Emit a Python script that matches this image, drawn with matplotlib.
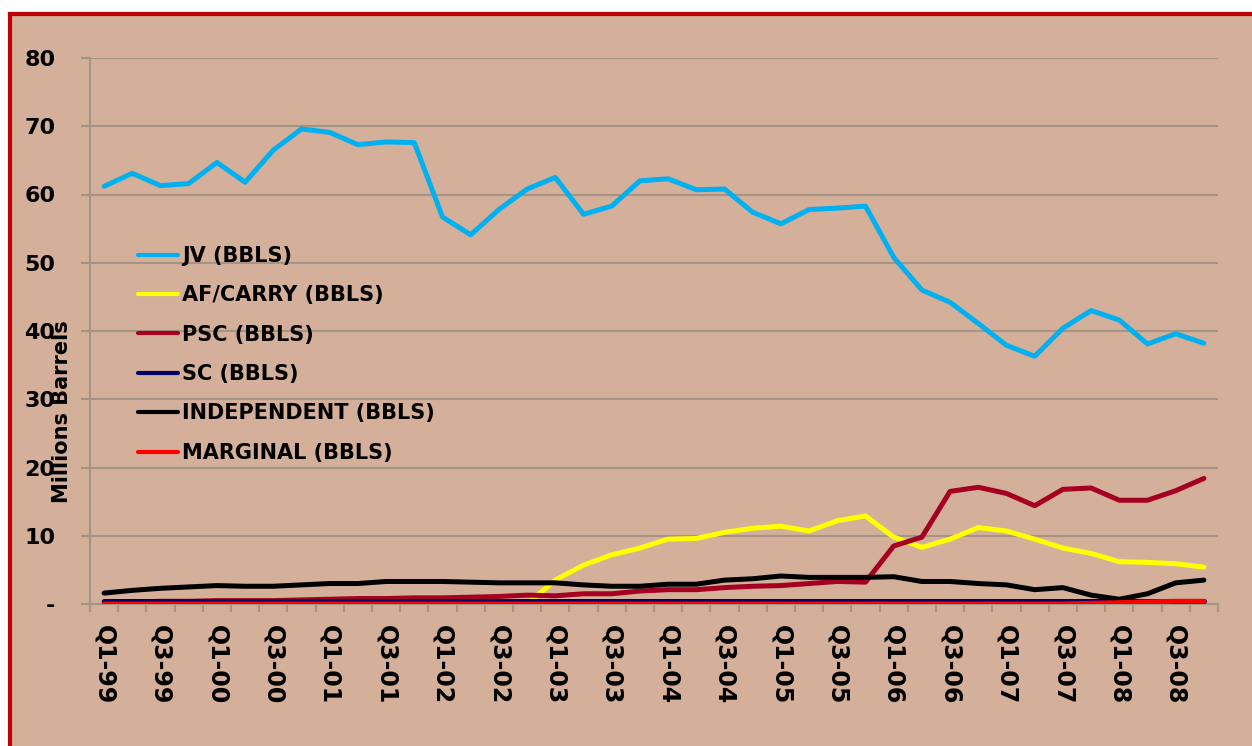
import matplotlib
matplotlib.use("Agg")
import matplotlib.pyplot as plt
from matplotlib.patches import Rectangle
from matplotlib.ticker import FixedLocator, NullFormatter

# --- Data (millions of barrels per quarter) ---
QUARTERS = [f"Q{q}-{y:02d}" for y in list(range(99, 100)) + list(range(0, 9)) for q in (1, 2, 3, 4)]
JV = [61.2, 63.1, 61.3, 61.6, 64.7, 61.8, 66.5, 69.6, 69.1, 67.3, 67.7, 67.6, 56.7, 54.1, 57.8, 60.8,
      62.5, 57.1, 58.3, 62.0, 62.3, 60.7, 60.8, 57.4, 55.7, 57.8, 58.0, 58.3, 50.8, 46.0, 44.2, 41.1,
      37.9, 36.3, 40.4, 43.0, 41.6, 38.1, 39.6, 38.2]
AF_CARRY = [0.0, 0.0, 0.0, 0.0, 0.0, 0.0, 0.0, 0.0, 0.0, 0.0, 0.0, 0.0, 0.0, 0.0, 0.0, 0.0,
            3.5, 5.7, 7.2, 8.2, 9.5, 9.6, 10.5, 11.1, 11.4, 10.7, 12.2, 12.9, 9.8, 8.3, 9.5, 11.2,
            10.7, 9.5, 8.2, 7.4, 6.2, 6.1, 5.9, 5.4]
PSC = [0.3, 0.3, 0.4, 0.4, 0.5, 0.5, 0.5, 0.6, 0.7, 0.8, 0.8, 0.9, 0.9, 1.0, 1.1, 1.3,
       1.2, 1.5, 1.5, 1.9, 2.1, 2.1, 2.4, 2.6, 2.7, 3.0, 3.3, 3.2, 8.5, 9.8, 16.5, 17.1,
       16.2, 14.4, 16.8, 17.0, 15.2, 15.2, 16.6, 18.4]
SC = [0.4, 0.4, 0.4, 0.4, 0.4, 0.4, 0.4, 0.4, 0.4, 0.4, 0.4, 0.4, 0.4, 0.4, 0.4, 0.4,
      0.4, 0.4, 0.4, 0.4, 0.4, 0.4, 0.4, 0.4, 0.4, 0.4, 0.4, 0.4, 0.4, 0.4, 0.4, 0.4,
      0.4, 0.4, 0.4, 0.4, 0.4, 0.4, 0.4, 0.4]
INDEPENDENT = [1.6, 2.0, 2.3, 2.5, 2.7, 2.6, 2.6, 2.8, 3.0, 3.0, 3.3, 3.3, 3.3, 3.2, 3.1, 3.1,
               3.1, 2.8, 2.6, 2.6, 2.9, 2.9, 3.5, 3.7, 4.1, 3.9, 3.9, 3.9, 4.0, 3.3, 3.3, 3.0,
               2.8, 2.1, 2.4, 1.3, 0.7, 1.5, 3.1, 3.5]
MARGINAL = [0.0, 0.0, 0.0, 0.0, 0.0, 0.0, 0.0, 0.0, 0.0, 0.0, 0.0, 0.0, 0.0, 0.0, 0.0, 0.0,
            0.0, 0.0, 0.0, 0.0, 0.0, 0.0, 0.0, 0.0, 0.0, 0.0, 0.0, 0.0, 0.0, 0.0, 0.0, 0.0,
            0.0, 0.0, 0.0, 0.1, 0.2, 0.3, 0.4, 0.4]

SERIES = [
    ("JV (BBLS)", JV, "#00B0F0"),
    ("AF/CARRY (BBLS)", AF_CARRY, "#FFFF00"),
    ("PSC (BBLS)", PSC, "#A50021"),
    ("SC (BBLS)", SC, "#000066"),
    ("INDEPENDENT (BBLS)", INDEPENDENT, "#000000"),
    ("MARGINAL (BBLS)", MARGINAL, "#FF0000"),
]
Y_TICKS = [0, 10, 20, 30, 40, 50, 60, 70, 80]
Y_LABELS = ["-", "10", "20", "30", "40", "50", "60", "70", "80"]

BG = "#D4B09A"
GRID = "#A39486"
W, H = 1252, 746

plt.rcParams["font.family"] = ["DejaVu Sans"]
plt.rcParams["font.weight"] = "bold"

fig = plt.figure(figsize=(W / 100, H / 100), dpi=100, facecolor="white")
# Outer panel with red border
fig.patches.append(Rectangle((10 / W, -0.1), 2, (H - 14) / H + 0.1, transform=fig.transFigure,
                             facecolor=BG, edgecolor="#C00000", linewidth=3, zorder=-10))

ax = fig.add_axes([90 / W, (H - 604) / H, 1128 / W, (604 - 58) / H])
ax.set_facecolor("none")

x = list(range(len(QUARTERS)))
for label, vals, color in SERIES:
    ax.plot(x, vals, color=color, lw=3.6, label=label,
            solid_joinstyle="round", solid_capstyle="round", zorder=3)

ax.set_xlim(-0.5, len(QUARTERS) - 0.5)
ax.set_ylim(0, 80)

# y axis
ax.set_yticks(Y_TICKS)
ax.set_yticklabels(Y_LABELS, fontsize=16, fontweight="bold")
ax.yaxis.grid(True, color=GRID, lw=1.5)
ax.tick_params(axis="y", length=6.5, width=1.5, color=GRID, pad=18.5)

# x axis: labels every other quarter, ticks between categories
ax.set_xticks(x[::2])
ax.set_xticklabels(QUARTERS[::2], rotation=270, fontsize=17, fontweight="bold")
ax.tick_params(axis="x", which="major", length=0, pad=15)
ax.xaxis.set_minor_locator(FixedLocator([i + 0.5 for i in range(-1, len(QUARTERS))]))
ax.xaxis.set_minor_formatter(NullFormatter())
ax.tick_params(axis="x", which="minor", length=6, width=1.5, color=GRID)

for side in ("top", "right"):
    ax.spines[side].set_visible(False)
ax.spines["left"].set_color(GRID)
ax.spines["left"].set_linewidth(1.5)
ax.spines["bottom"].set_color(GRID)
ax.spines["bottom"].set_linewidth(1.5)
ax.set_axisbelow(True)

# axis title sits over the tick labels, as in the original Excel chart
fig.text(62 / W, (H - 412) / H, "Millions Barrels", rotation=90, fontsize=15,
         fontweight="bold", ha="center", va="center")

leg = ax.legend(loc="upper left", bbox_to_anchor=(138 / W, (H - 246) / H),
                bbox_transform=fig.transFigure, frameon=False,
                handlelength=1.92, handletextpad=0.2, labelspacing=0.93, borderpad=0,
                borderaxespad=0, prop={"weight": "bold", "size": 15})
for line in leg.get_lines():
    line.set_linewidth(3)
    line.set_solid_capstyle("round")

fig.savefig("out.png", dpi=100, facecolor="white")
